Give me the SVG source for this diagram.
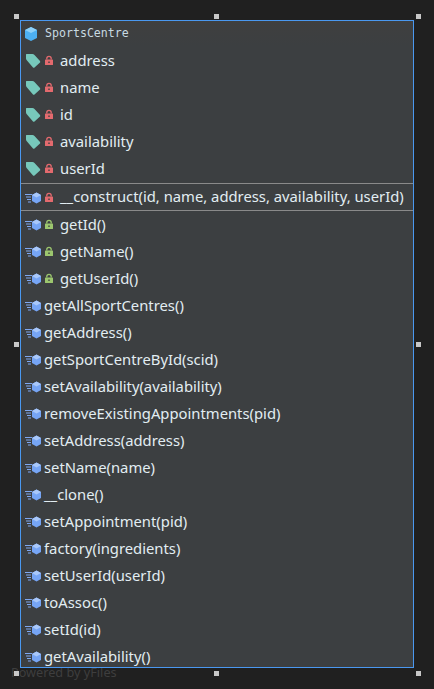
<svg xmlns="http://www.w3.org/2000/svg" xmlns:xlink="http://www.w3.org/1999/xlink" width="434" height="689" viewBox="0 0 434 689">
<style>
.t{font-family:"Noto Sans","Open Sans",sans-serif;font-size:14.8px;fill:#e2edf2}
.h{font-family:"DejaVu Sans Mono","Liberation Mono",monospace;font-size:11.6px;fill:#c8dae2}
.w{font-family:"Noto Sans","Open Sans",sans-serif;font-size:12.7px;fill:#3e3e3e}
.g{fill:#c8c8c8}
.s{stroke:#8a8a8a;stroke-width:1;fill:none}
</style>
<defs>
<linearGradient id="hd" x1="0" y1="0" x2="0" y2="1"><stop offset="0" stop-color="#3f3f3f"/><stop offset="1" stop-color="#3c3f41"/></linearGradient>
<g id="tag"><path d="M-6.500-7H-0.500Q0.500-7 1.500-6L7 0Q7.500 1 7 1.500L1.500 6.500Q0.500 7 0 6.500L-6-0.500Q-7-1.500-7-2.500V-6.500Q-7-7-6.500-7Z" fill="#77c8bb"/></g>
<g id="lr"><path d="M-2.200-1.500V-2.500a2.200 2.200 0 0 1 4.400 0V-1.500" fill="none" stroke="#e36a6e" stroke-width="1.300"/><rect x="-4" y="-1.500" width="8" height="5.500" rx="0.600" fill="#e36a6e"/><rect x="-0.700" y="0.500" width="1.400" height="1.500" fill="#3c3f41"/></g>
<g id="lg"><path d="M-2.200-1.500V-2.500a2.200 2.200 0 0 1 4.400 0V-1.500" fill="none" stroke="#9cc66e" stroke-width="1.300"/><rect x="-4" y="-1.500" width="8" height="5.500" rx="0.600" fill="#9cc66e"/><rect x="-0.700" y="0.500" width="1.400" height="1.500" fill="#3c3f41"/></g>
<g id="m"><path d="M-8-3.500h7M-7-1h5M-6 1.500h4M-5 4h3" stroke="#7fa8f0" stroke-width="1" fill="none"/><path d="M3.500-5.500 8-3V3L3.500 5.500-1 3V-3Z" fill="#76a5f5"/><path d="M3.500-5.500 8-3 3.500-0.500-1-3Z" fill="#a9c8fa"/></g>
</defs>
<rect width="434" height="689" fill="#202020"/>
<text class="w" x="11" y="677">Powered by yFiles</text>
<g id="SportsCentre">
<rect x="20.500" y="20.500" width="393" height="647" fill="#3c3f41" stroke="#4a98f0" stroke-width="1"/>
<rect x="21" y="21" width="392" height="25" fill="url(#hd)"/>
<path d="M31 27 37 30V38L31 41 25 38V30Z" fill="#4db0f2"/><path d="M31 27 37 30 31 33 25 30Z" fill="#8ed0f8"/>
<text class="h" x="45" y="37">SportsCentre</text>
<path class="s" d="M21 183.500H413M21 210.500H413"/>
<use xlink:href="#tag" x="33" y="61"/><use xlink:href="#lr" x="49" y="61"/><text class="t" x="60" y="66">address</text>
<use xlink:href="#tag" x="33" y="88"/><use xlink:href="#lr" x="49" y="88"/><text class="t" x="60" y="93">name</text>
<use xlink:href="#tag" x="33" y="115"/><use xlink:href="#lr" x="49" y="115"/><text class="t" x="60" y="120">id</text>
<use xlink:href="#tag" x="33" y="142"/><use xlink:href="#lr" x="49" y="142"/><text class="t" x="60" y="147">availability</text>
<use xlink:href="#tag" x="33" y="169"/><use xlink:href="#lr" x="49" y="169"/><text class="t" x="60" y="174">userId</text>
<use xlink:href="#m" x="33" y="198"/><use xlink:href="#lr" x="49" y="198"/><text class="t" x="60" y="202">__construct(id, name, address, availability, userId)</text>
<use xlink:href="#m" x="33" y="225"/><use xlink:href="#lg" x="49" y="225"/><text class="t" x="60" y="230">getId()</text>
<use xlink:href="#m" x="33" y="252"/><use xlink:href="#lg" x="49" y="252"/><text class="t" x="60" y="257">getName()</text>
<use xlink:href="#m" x="33" y="279"/><use xlink:href="#lg" x="49" y="279"/><text class="t" x="60" y="284">getUserId()</text>
<use xlink:href="#m" x="33" y="306"/><text class="t" x="44" y="311">getAllSportCentres()</text>
<use xlink:href="#m" x="33" y="333"/><text class="t" x="44" y="338">getAddress()</text>
<use xlink:href="#m" x="33" y="360"/><text class="t" x="44" y="365">getSportCentreById(scid)</text>
<use xlink:href="#m" x="33" y="387"/><text class="t" x="44" y="392">setAvailability(availability)</text>
<use xlink:href="#m" x="33" y="414"/><text class="t" x="44" y="419">removeExistingAppointments(pid)</text>
<use xlink:href="#m" x="33" y="441"/><text class="t" x="44" y="446">setAddress(address)</text>
<use xlink:href="#m" x="33" y="468"/><text class="t" x="44" y="473">setName(name)</text>
<use xlink:href="#m" x="33" y="495"/><text class="t" x="44" y="500">__clone()</text>
<use xlink:href="#m" x="33" y="522"/><text class="t" x="44" y="527">setAppointment(pid)</text>
<use xlink:href="#m" x="33" y="549"/><text class="t" x="44" y="554">factory(ingredients)</text>
<use xlink:href="#m" x="33" y="576"/><text class="t" x="44" y="581">setUserId(userId)</text>
<use xlink:href="#m" x="33" y="603"/><text class="t" x="44" y="608">toAssoc()</text>
<use xlink:href="#m" x="33" y="630"/><text class="t" x="44" y="635">setId(id)</text>
<use xlink:href="#m" x="33" y="657"/><text class="t" x="44" y="662">getAvailability()</text>
</g>
<g id="handles">
<rect class="g" x="14" y="14" width="5" height="5"/><rect class="g" x="214" y="14" width="5" height="5"/><rect class="g" x="416" y="14" width="5" height="5"/>
<rect class="g" x="14" y="342" width="5" height="5"/><rect class="g" x="416" y="342" width="5" height="5"/>
<rect class="g" x="14" y="671" width="5" height="5"/><rect class="g" x="214" y="671" width="5" height="5"/><rect class="g" x="416" y="671" width="5" height="5"/>
</g>
<g id="connectors"/>
</svg>
